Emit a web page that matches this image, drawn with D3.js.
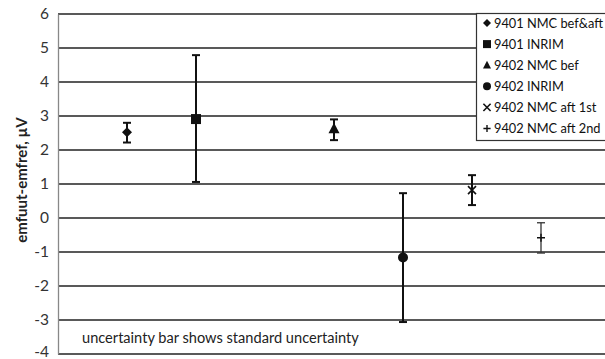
<!DOCTYPE html>
<html>
<head>
<meta charset="utf-8">
<script src="https://cdn.jsdelivr.net/npm/d3@7"></script>
<style>
  body { margin: 0; background: #fff; }
  svg { font-family: Lato, "Open Sans", sans-serif; }
</style>
</head>
<body>
<svg id="chart"></svg>
<script>
const WIDTH = 605;
const HEIGHT = 359;
const LEFT = 58;   // y-axis position
const TOP = 14;    // value 6
const BOTTOM = 354; // value -4
const UNIT_X = 69; // px between categories

// data
const seriesNames = ["9401 NMC bef&aft", "9401 INRIM", "9402 NMC bef", "9402 INRIM", "9402 NMC aft 1st", "9402 NMC aft 2nd"];
const xPositions = [1, 2, 4, 5, 6, 7];
const values = [2.52, 2.91, 2.62, -1.16, 0.82, -0.58];
const errLow = [2.22, 1.06, 2.29, -3.06, 0.38, -1.03];
const errHigh = [2.80, 4.79, 2.90, 0.73, 1.26, -0.14];
const markerTypes = ["diamond", "square", "triangle", "circle", "cross", "plus"];
const yTicks = [-4, -3, -2, -1, 0, 1, 2, 3, 4, 5, 6];

const svg = d3.select("#chart").attr("width", WIDTH).attr("height", HEIGHT);

const x = d3.scaleLinear().domain([0, 8]).range([LEFT, LEFT + 8 * UNIT_X]);
const y = d3.scaleLinear().domain([-4, 6]).range([BOTTOM, TOP]);

// gridlines
svg.append("g")
  .selectAll("line")
  .data(yTicks)
  .join("line")
  .attr("x1", LEFT).attr("x2", WIDTH)
  .attr("y1", d => y(d)).attr("y2", d => y(d))
  .attr("stroke", "#222")
  .attr("stroke-width", 1.3);

// y axis, plain hyphen for negatives like the original
const yAxis = d3.axisLeft(y).tickValues(yTicks).tickSize(0).tickPadding(9).tickFormat(d => String(d));
const ag = svg.append("g").attr("transform", "translate(" + LEFT + ",0)").call(yAxis);
ag.select(".domain").attr("stroke", "#888").attr("stroke-width", 1.3);
ag.selectAll("text").attr("font-size", 15.5).attr("fill", "#333").attr("font-family", "Lato, sans-serif");
ag.selectAll("text").filter(d => d === -4).attr("dy", "0.18em"); // keep bottom label inside the frame

svg.append("text") // y label
  .attr("transform", "translate(27,180) rotate(-90)")
  .attr("text-anchor", "middle")
  .attr("font-size", 15)
  .attr("font-weight", "bold")
  .attr("fill", "#222")
  .text("emfuut-emfref, µV");

// note
svg.append("text")
  .attr("x", 82).attr("y", 343)
  .attr("font-size", 14.6)
  .attr("fill", "#222")
  .text("uncertainty bar shows standard uncertainty");

// marker shapes
function drawMarker(g, type, cx, cy, s) {
  if (type === "diamond") {
    g.append("path").attr("d", `M${cx},${cy - s}L${cx + s},${cy}L${cx},${cy + s}L${cx - s},${cy}Z`).attr("fill", "#111");
  } else if (type === "square") {
    g.append("rect").attr("x", cx - s).attr("y", cy - s).attr("width", 2 * s).attr("height", 2 * s).attr("fill", "#111");
  } else if (type === "triangle") {
    g.append("path").attr("d", `M${cx},${cy - s * 1.1}L${cx + s},${cy + s * 0.8}L${cx - s},${cy + s * 0.8}Z`).attr("fill", "#111");
  } else if (type === "circle") {
    g.append("circle").attr("cx", cx).attr("cy", cy).attr("r", s).attr("fill", "#111");
  } else if (type === "cross") {
    g.append("path").attr("d", `M${cx - s},${cy - s}L${cx + s},${cy + s}M${cx + s},${cy - s}L${cx - s},${cy + s}`)
      .attr("stroke", "#111").attr("stroke-width", 1.6);
  } else if (type === "plus") {
    g.append("path").attr("d", `M${cx - s},${cy}L${cx + s},${cy}M${cx},${cy - s}L${cx},${cy + s}`)
      .attr("stroke", "#111").attr("stroke-width", 1.4);
  }
}

const sizes = [5, 5, 5.5, 5, 4, 4];

// error bars and points
seriesNames.forEach((name, i) => {
  const g = svg.append("g");
  const cx = x(xPositions[i]);
  const sw = i === 5 ? 1.3 : 2;
  const col = i === 5 ? "#333" : "#111";
  g.append("line")
    .attr("x1", cx).attr("x2", cx)
    .attr("y1", y(errLow[i])).attr("y2", y(errHigh[i]))
    .attr("stroke", col).attr("stroke-width", sw);
  [errLow[i], errHigh[i]].forEach(v => {
    g.append("line")
      .attr("x1", cx - 4).attr("x2", cx + 4)
      .attr("y1", y(v)).attr("y2", y(v))
      .attr("stroke", col).attr("stroke-width", sw);
  });
  drawMarker(g, markerTypes[i], cx, y(values[i]), sizes[i]);
});

// legend
const legend = svg.append("g");
legend.append("rect")
  .attr("x", 476.5).attr("y", 13.5)
  .attr("width", 140).attr("height", 127)
  .attr("fill", "#fff").attr("stroke", "#333").attr("stroke-width", 1.2);

seriesNames.forEach((name, i) => {
  const ly = 23 + i * 21.1;
  drawMarker(legend, markerTypes[i], 487, ly, markerTypes[i] === "cross" || markerTypes[i] === "plus" ? 3.6 : 4);
  legend.append("text")
    .attr("x", 494).attr("y", ly + 4.6)
    .attr("font-size", 12.8)
    .attr("fill", "#111")
    .text(name);
});
</script>
</body>
</html>
